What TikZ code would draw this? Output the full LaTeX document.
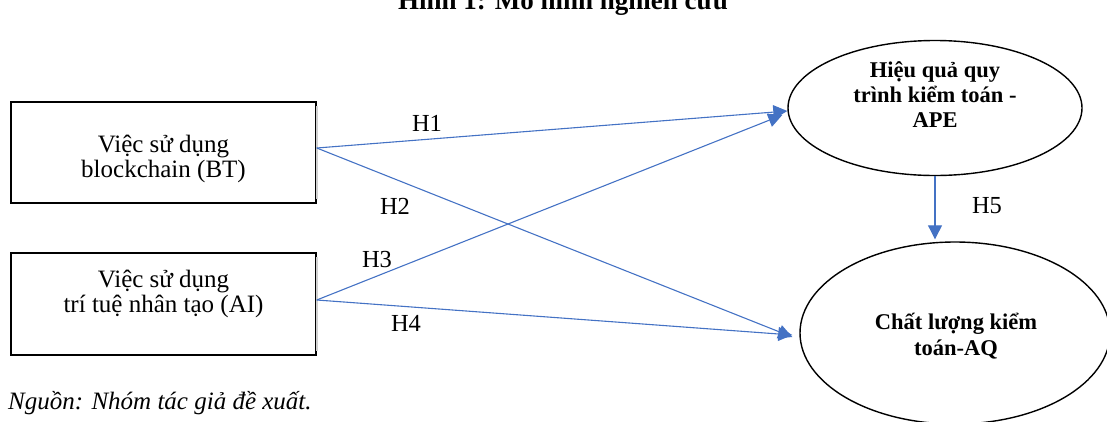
\documentclass[tikz,border=0pt]{standalone}
\usepackage{fontspec}
\setmainfont{Liberation Serif}
\usetikzlibrary{shapes.geometric,arrows.meta}
\definecolor{linkblue}{HTML}{4472C4}
\begin{document}
\begin{tikzpicture}[x=1pt,y=-1pt,
  box/.style={draw=black, line width=1.5pt, minimum width=305pt, inner sep=0pt},
  oval/.style={ellipse, draw=black, line width=1.4pt, inner sep=0pt},
  lbl/.style={font=\fontsize{25}{30}\selectfont, anchor=base, inner sep=0pt},
  ovallbl/.style={font=\fontsize{22.5}{27}\selectfont\bfseries, anchor=base, inner sep=0pt},
  hyp/.style={font=\fontsize{24.5}{29}\selectfont, anchor=base, inner sep=0pt},
  link/.style={draw=linkblue, line width=1.1pt, -{Triangle[length=14pt,width=14pt]}},
]
\path[use as bounding box] (0,0) rectangle (1107,421);
\clip (0,0) rectangle (1107,421);

% caption
\node[font=\fontsize{27}{32}\selectfont\bfseries, anchor=base, inner sep=0pt] (title) at (563,9.5) {Hình 1: Mô hình nghiên cứu};

% independent variables
\node[box, minimum height=101pt] (bt) at (163.5,152.5) {};
\node[box, minimum height=102pt] (ai) at (163.5,304) {};
\draw[black!18, line width=1.5pt] ([yshift=-5pt]bt.north east) -- ([yshift=5pt]bt.south east);
\draw[black!18, line width=1.5pt] ([yshift=-5pt]ai.north east) -- ([yshift=5pt]ai.south east);

\node[lbl] (bt1) at (163.5,152) {Việc sử dụng};
\node[lbl] (bt2) at (163.5,177) {blockchain (BT)};
\node[lbl] (ai1) at (163.5,287) {Việc sử dụng};
\node[lbl] (ai2) at (163.5,312) {trí tuệ nhân tạo (AI)};

% dependent variables
\node[oval, minimum width=294pt, minimum height=135pt] (ape) at (935,108) {};
\node[oval, minimum width=310pt, minimum height=182pt] (aq) at (955,333) {};

\node[ovallbl] (ape1) at (935,77) {Hiệu quả quy};
\node[ovallbl] (ape2) at (935,102) {trình kiểm toán -};
\node[ovallbl] (ape3) at (935,127) {APE};
\node[ovallbl] (aq1) at (956,329) {Chất lượng kiểm};
\node[ovallbl] (aq2) at (956,355) {toán-AQ};

% hypotheses
\draw[link] ([yshift=4.5pt]bt.east) -- ([yshift=-3pt]ape.west);
\draw[link] ([yshift=4.5pt]bt.east) -- ([xshift=-7pt,yshift=-4pt]aq.west);
\draw[link] ([yshift=4pt]ai.east) -- ([xshift=-5pt,yshift=-7pt]ape.west);
\draw[link] ([yshift=4pt]ai.east) -- ([xshift=-7pt,yshift=-2pt]aq.west);
\draw[link, shorten >=2pt] (ape.south) -- (ape.south |- aq.north);

\node[hyp] (h1) at (427,131) {H1};
\node[hyp] (h2) at (395,214) {H2};
\node[hyp] (h3) at (377,267) {H3};
\node[hyp] (h4) at (406,331) {H4};
\node[hyp] (h5) at (987,213) {H5};

% source note
\node[font=\fontsize{25}{30}\selectfont\itshape, anchor=base west, inner sep=0pt] (src) at (8,409) {Nguồn: Nhóm tác giả đề xuất.};
\end{tikzpicture}
\end{document}
